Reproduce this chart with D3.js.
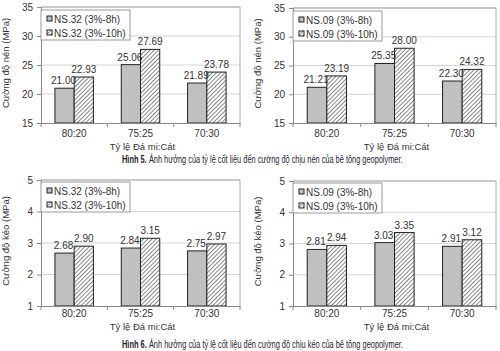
<!DOCTYPE html>
<html>
<head>
<meta charset="utf-8">
<script src="https://cdn.jsdelivr.net/npm/d3@7"></script>
<style>
  html, body { margin: 0; padding: 0; background: #fff; }
  svg { display: block; }
  text { font-family: "Liberation Sans", Arial, sans-serif; fill: #333; }
</style>
</head>
<body>
<svg id="chart" width="500" height="351"></svg>
<script>
const categories = ["80:20", "75:25", "70:30"];
const seriesNS32 = ["NS.32 (3%-8h)", "NS.32 (3%-10h)"];
const seriesNS09 = ["NS.09 (3%-8h)", "NS.09 (3%-10h)"];

const nen32_8h  = [21.00, 25.06, 21.89];
const nen32_10h = [22.93, 27.69, 23.78];
const nen09_8h  = [21.21, 25.35, 22.30];
const nen09_10h = [23.19, 28.00, 24.32];

const keo32_8h  = [2.68, 2.84, 2.75];
const keo32_10h = [2.90, 3.15, 2.97];
const keo09_8h  = [2.81, 3.03, 2.91];
const keo09_10h = [2.94, 3.35, 3.12];

const nenTicks = [15, 20, 25, 30, 35];
const keoTicks = [1, 2, 3, 4, 5];

const xTitle = "Tỷ lệ Đá mi:Cát";
const yTitleNen = "Cường độ nén (MPa)";
const yTitleKeo = "Cường độ kéo (MPa)";
const caption5 = ["Hình 5.", "Ảnh hưởng của tỷ lệ cốt liệu đến cường độ chịu nén của bê tông geopolymer."];
const caption6 = ["Hình 6.", "Ảnh hưởng của tỷ lệ cốt liệu đến cường độ chịu kéo của bê tông geopolymer."];

const svg = d3.select("#chart");
const defs = svg.append("defs");
const pat = defs.append("pattern")
  .attr("id", "hatch")
  .attr("patternUnits", "userSpaceOnUse")
  .attr("width", 3).attr("height", 3)
  .attr("patternTransform", "rotate(45)");
pat.append("rect").attr("width", 3).attr("height", 3).attr("fill", "#fff");
pat.append("line").attr("x1", 0).attr("y1", 0).attr("x2", 0).attr("y2", 3)
  .attr("stroke", "#222").attr("stroke-width", 1.1);

const fills = ["#c0c0c0", "url(#hatch)"];

function panel(cfg) {
  const g = svg.append("g");
  const x0 = d3.scaleBand().domain(categories).range([cfg.left, cfg.right]);
  const bw = x0.bandwidth();
  const x1 = d3.scaleBand().domain([0, 1]).range([bw * 0.21, bw * 0.79]);
  const y = d3.scaleLinear().domain([cfg.ticks[0], cfg.ticks[cfg.ticks.length - 1]])
    .range([cfg.bottom, cfg.top]);

  g.selectAll(".grid").data(cfg.ticks.slice(1)).join("line")
    .attr("x1", cfg.left).attr("x2", cfg.right)
    .attr("y1", d => y(d)).attr("y2", d => y(d))
    .attr("stroke", "#d4d4d4").attr("stroke-width", 1);

  g.append("path")
    .attr("d", `M${cfg.left},${cfg.top}H${cfg.right}V${cfg.bottom}`)
    .attr("fill", "none").attr("stroke", "#a8a8a8").attr("stroke-width", 1);

  const data = [];
  categories.forEach((c, i) => {
    cfg.series.forEach((vals, s) => data.push({ c, s, v: vals[i] }));
  });
  g.selectAll(".bar").data(data).join("rect")
    .attr("x", d => x0(d.c) + x1(d.s))
    .attr("width", x1.bandwidth())
    .attr("y", d => y(d.v))
    .attr("height", d => y(cfg.ticks[0]) - y(d.v))
    .attr("fill", d => fills[d.s])
    .attr("stroke", "#222").attr("stroke-width", 1);

  g.selectAll(".val").data(data).join("text")
    .attr("x", d => x0(d.c) + x1(d.s) + x1.bandwidth() / 2 - (d.s === 0 ? 1 : 0))
    .attr("y", d => y(d.v) - 4)
    .attr("text-anchor", "middle")
    .attr("font-size", 10)
    .text(d => d.v.toFixed(2));

  const yAxis = d3.axisLeft(y).tickValues(cfg.ticks).tickSize(4).tickPadding(4)
    .tickFormat(d3.format("d"));
  const ya = g.append("g").attr("transform", `translate(${cfg.left},0)`).call(yAxis);
  ya.select(".domain").attr("stroke", "#888");
  ya.selectAll(".tick line").attr("stroke", "#888");
  ya.selectAll(".tick text").attr("font-size", 10).attr("fill", "#333")
    .attr("font-family", "Liberation Sans, Arial, sans-serif");

  const xAxis = d3.axisBottom(x0).tickSize(0).tickPadding(cfg.xPad);
  const xa = g.append("g").attr("transform", `translate(0,${cfg.bottom})`).call(xAxis);
  xa.select(".domain").attr("stroke", "#888");
  xa.selectAll(".tick text").attr("font-size", 10).attr("fill", "#333")
    .attr("font-family", "Liberation Sans, Arial, sans-serif");
  const bounds = categories.map(c => x0(c)).concat([cfg.right]);
  g.selectAll(".xt").data(bounds).join("line")
    .attr("x1", d => d).attr("x2", d => d)
    .attr("y1", cfg.bottom).attr("y2", cfg.bottom + 4)
    .attr("stroke", "#888");

  g.append("text")
    .attr("x", (cfg.left + cfg.right) / 2 + 2)
    .attr("y", cfg.xTitleY)
    .attr("text-anchor", "middle")
    .attr("font-size", 9.5)
    .text(xTitle);

  g.append("text")
    .attr("transform", `translate(${cfg.yTitleX},${(cfg.top + cfg.bottom) / 2 - 2}) rotate(-90)`)
    .attr("text-anchor", "middle")
    .attr("font-size", 9.5)
    .text(cfg.yTitle);

  const lg = g.append("g").attr("transform", `translate(${cfg.left},${cfg.legendTop})`);
  lg.append("rect").attr("x", 0).attr("y", 0).attr("width", 89).attr("height", 30)
    .attr("fill", "#fff").attr("stroke", "#999").attr("stroke-width", 1);
  cfg.names.forEach((n, i) => {
    lg.append("rect").attr("x", 6).attr("y", 6 + i * 14)
      .attr("width", 5).attr("height", 5)
      .attr("fill", fills[i]).attr("stroke", "#222").attr("stroke-width", 1);
    lg.append("text").attr("x", 13).attr("y", 12.5 + i * 14)
      .attr("font-size", 10).text(n);
  });
}

function caption(parts, y) {
  const ff = "'Liberation Sans Narrow', 'Liberation Sans', sans-serif";
  const left = 122, right = 403;
  const g = svg.append("g");
  const b = g.append("text")
    .attr("x", 0).attr("y", 0)
    .attr("font-size", 10).attr("font-weight", "bold")
    .style("font-family", ff).style("fill", "#1c1c2c")
    .text(parts[0]);
  const bw = b.node().getComputedTextLength();
  const r = g.append("text")
    .attr("x", bw + 3).attr("y", 0)
    .attr("font-size", 10)
    .style("font-family", ff).style("fill", "#1c1c2c")
    .text(parts[1]);
  const total = bw + 3 + r.node().getComputedTextLength();
  const sx = Math.min(1, (right - left) / total);
  g.attr("transform", `translate(${left},${y}) scale(${sx},1)`);
}

panel({ left: 41, right: 240, top: 7, bottom: 123, ticks: nenTicks,
  series: [nen32_8h, nen32_10h], names: seriesNS32, yTitle: yTitleNen,
  xPad: 7, xTitleY: 150, yTitleX: 9, legendTop: 10 });
panel({ left: 293, right: 496, top: 8, bottom: 123, ticks: nenTicks,
  series: [nen09_8h, nen09_10h], names: seriesNS09, yTitle: yTitleNen,
  xPad: 7, xTitleY: 150, yTitleX: 261, legendTop: 11 });
panel({ left: 41, right: 240, top: 180, bottom: 306, ticks: keoTicks,
  series: [keo32_8h, keo32_10h], names: seriesNS32, yTitle: yTitleKeo,
  xPad: 4, xTitleY: 330, yTitleX: 9, legendTop: 182 });
panel({ left: 293, right: 496, top: 181, bottom: 306, ticks: keoTicks,
  series: [keo09_8h, keo09_10h], names: seriesNS09, yTitle: yTitleKeo,
  xPad: 4, xTitleY: 330, yTitleX: 261, legendTop: 183 });

caption(caption5, 163);
caption(caption6, 348);
</script>
</body>
</html>
